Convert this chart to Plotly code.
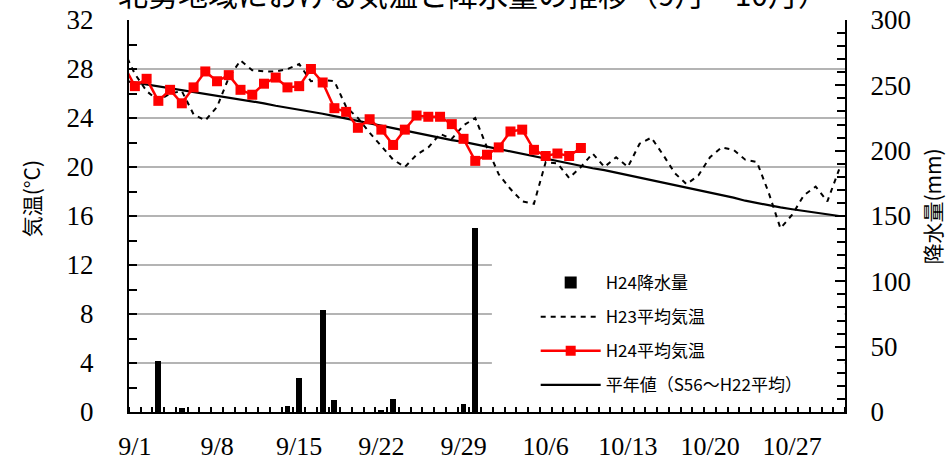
import pandas as pd
import plotly.graph_objects as go

# ---- data (8/31 ... 10/31) ----
dates = pd.date_range("2012-08-31", "2012-10-31", freq="D")
tick_dates = ["2012-09-01", "2012-09-08", "2012-09-15", "2012-09-22", "2012-09-29",
              "2012-10-06", "2012-10-13", "2012-10-20", "2012-10-27"]
tick_labels = ["9/1", "9/8", "9/15", "9/22", "9/29", "10/6", "10/13", "10/20", "10/27"]

# H24 precipitation (mm), 8/31 .. 10/9
h24_rain = [0,
            0, 0, 39, 0, 3, 0, 0, 0, 0, 0,
            0, 0, 0, 4.5, 26, 0, 78, 9, 0, 0,
            0, 1.5, 10, 0, 0, 0, 0, 0, 6, 141,
            0, 0, 0, 0, 0, 0, 0, 0, 0] + [None] * 22

# H23 mean temperature (°C), 8/31 .. 10/31
h23_temp = [29.6,
            27.6, 26.2, 25.4, 26.0, 26.2, 24.3, 23.8, 24.9, 27.3, 28.7,
            27.9, 27.8, 27.8, 28.0, 28.4, 27.0, 27.1, 27.0, 24.9, 24.0,
            22.8, 21.7, 20.6, 20.0, 21.0, 21.6, 22.7, 22.3, 23.4, 24.0,
            21.6, 19.4, 18.2, 17.2, 17.0, 20.4, 20.3, 19.1, 20.0, 21.1,
            20.0, 20.8, 20.0, 21.9, 22.4, 21.0, 19.5, 18.6, 19.3, 20.8,
            21.6, 21.4, 20.6, 20.4, 17.9, 15.0, 16.1, 17.7, 18.4, 17.2,
            19.8]

# H24 mean temperature (°C), 8/31 .. 10/9
h24_temp = [28.4,
            26.6, 27.2, 25.4, 26.3, 25.2, 26.5, 27.8, 27.0, 27.5, 26.3,
            25.9, 26.8, 27.3, 26.5, 26.6, 28.0, 26.9, 24.8, 24.5, 23.2,
            23.9, 23.05, 21.8, 23.05, 24.2, 24.1, 24.1, 23.5, 22.3, 20.5,
            21.0, 21.6, 22.9, 23.05, 21.4, 20.9, 21.1, 20.9, 21.55] + [None] * 22

# Normal (S56-H22 mean) temperature (°C), 8/31 .. 10/31
normal_temp = [27.05,
               26.9, 26.75, 26.6, 26.45, 26.3, 26.15, 26.0, 25.85, 25.65, 25.5,
               25.35, 25.2, 25.0, 24.85, 24.7, 24.5, 24.35, 24.15, 23.95, 23.75,
               23.55, 23.35, 23.2, 23.0, 22.8, 22.6, 22.4, 22.2, 22.05, 21.85,
               21.65, 21.45, 21.3, 21.1, 20.9, 20.7, 20.5, 20.3, 20.1, 19.9,
               19.75, 19.55, 19.35, 19.15, 18.95, 18.75, 18.55, 18.35, 18.1, 17.9,
               17.7, 17.5, 17.25, 17.05, 16.85, 16.7, 16.55, 16.4, 16.25, 16.1,
               16.0]

title_text = "北勢地域における気温と降水量の推移（9月～10月）"

serif = "Liberation Serif, Times New Roman, serif"
sans = "Noto Sans CJK JP, sans-serif"

fig = go.Figure()

fig.add_trace(go.Bar(
    x=dates, y=h24_rain, name="H24降水量", yaxis="y2",
    marker=dict(color="black", line=dict(width=0)),
    width=0.5 * 86400000, legendrank=1, legendgroup="a",
))
fig.add_trace(go.Scatter(
    x=dates, y=h23_temp, name="H23平均気温", mode="lines",
    line=dict(color="black", width=2, dash="5px,5px"),
    legendrank=2, legendgroup="b",
))
fig.add_trace(go.Scatter(
    x=dates, y=normal_temp, name="平年値（S56～H22平均）", mode="lines",
    line=dict(color="black", width=2.2),
    legendrank=4, legendgroup="d",
))
fig.add_trace(go.Scatter(
    x=dates, y=h24_temp, name="H24平均気温", mode="lines+markers",
    line=dict(color="#ff0000", width=2.5),
    marker=dict(symbol="square", size=10, color="#ff0000"),
    legendrank=3, legendgroup="c",
))

# white area behind legend (hides gridlines)
fig.add_shape(type="rect", xref="x", yref="y",
              x0="2012-10-01 10:00", x1="2012-10-31 11:00", y0=0.15, y1=14.2,
              fillcolor="white", line=dict(width=0), layer="between")

fig.update_layout(
    width=946, height=465,
    margin=dict(l=129, r=101, t=20, b=53, autoexpand=False),
    paper_bgcolor="white", plot_bgcolor="white",
    title=dict(text=title_text, xref="container", yref="container",
               x=0.5, xanchor="center", y=0.988, yanchor="bottom",
               font=dict(family=sans, size=30, color="black")),
    showlegend=True,
    legend=dict(x=0.568, y=0.375, xanchor="left", yanchor="top",
                font=dict(family=sans, size=17, color="black"),
                bgcolor="rgba(0,0,0,0)", tracegroupgap=9,
                itemwidth=60, traceorder="grouped"),
    bargap=0,
    xaxis=dict(
        type="date", automargin=False,
        range=["2012-08-31 12:00", "2012-10-31 12:00"],
        tickvals=tick_dates, ticktext=tick_labels,
        ticks="", showgrid=False,
        showline=True, linecolor="black", linewidth=2,
        tickfont=dict(family=serif, size=26, color="black"),
        ticklabelstandoff=10,
        minor=dict(tick0="2012-08-31 12:00", dtick=86400000, ticks="inside",
                   ticklen=5, tickwidth=1.5, tickcolor="black", showgrid=False),
        zeroline=False,
    ),
    yaxis=dict(
        range=[0, 32], dtick=4, tick0=0, automargin=False,
        ticks="inside", ticklen=8, tickwidth=1.5, tickcolor="black",
        showgrid=True, gridcolor="#b4b4b4", gridwidth=1.5,
        showline=True, linecolor="black", linewidth=2,
        tickfont=dict(family=serif, size=27, color="black"),
        ticklabelstandoff=28,
        minor=dict(dtick=2, ticks="inside", ticklen=8, tickwidth=1.5,
                   tickcolor="black", showgrid=False),
        zeroline=False,
    ),
    yaxis2=dict(
        overlaying="y", side="right", automargin=False,
        range=[0, 300], dtick=50, tick0=0,
        ticks="inside", ticklen=10, tickwidth=1.5, tickcolor="black",
        showgrid=False,
        showline=True, linecolor="black", linewidth=2,
        tickfont=dict(family=serif, size=27, color="black"),
        ticklabelstandoff=18,
        minor=dict(dtick=10, ticks="inside", ticklen=8, tickwidth=1.5,
                   tickcolor="black", showgrid=False),
        zeroline=False,
    ),
    annotations=[
        dict(text="気温(°C)", xref="paper", yref="paper", x=-0.137, y=0.545,
             xanchor="center", yanchor="middle", textangle=-90, showarrow=False,
             font=dict(family=sans, size=21, color="black")),
        dict(text="降水量(mm)", xref="paper", yref="paper", x=1.122, y=0.525,
             xanchor="center", yanchor="middle", textangle=-90, showarrow=False,
             font=dict(family=sans, size=21, color="black")),
    ],
)

fig.write_html("out.html", config={"displayModeBar": False},
               post_script="document.body.style.margin='0';")
